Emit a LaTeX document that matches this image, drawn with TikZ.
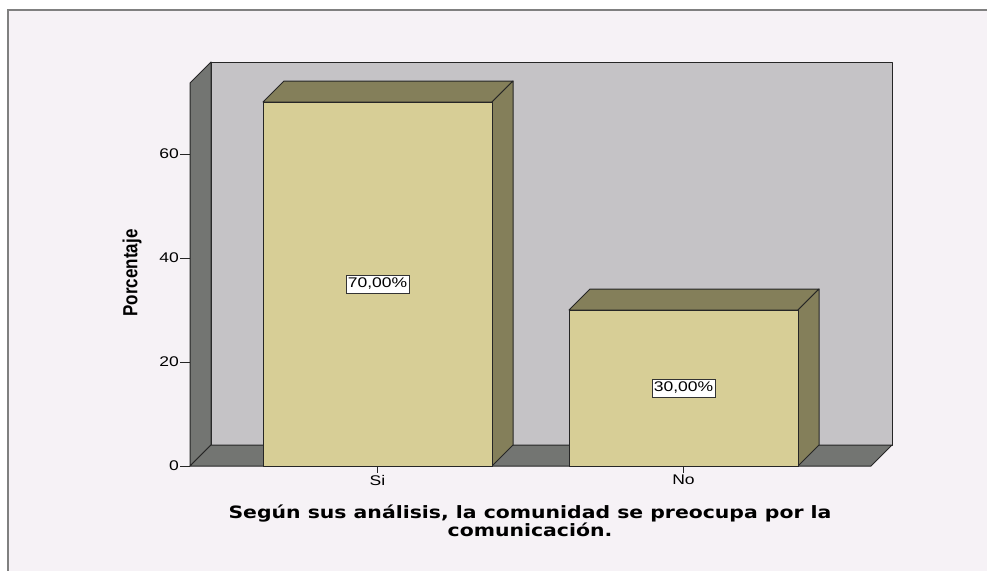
\documentclass[tikz,border=0pt]{standalone}
\usepackage{fontspec}
\setmainfont{Liberation Sans}
\newfontfamily\titlefont{DejaVu Sans}
\usetikzlibrary{positioning}
\definecolor{paper}{RGB}{246,242,246}
\definecolor{backwall}{RGB}{197,195,198}
\definecolor{sidewall}{RGB}{115,117,114}
\definecolor{barfront}{RGB}{215,206,150}
\definecolor{barside}{RGB}{132,127,90}
\newcommand{\wide}[1]{\scalebox{1.25}[1]{#1}}
\tikzset{
  edge/.style={draw=black!85, line width=1pt, line join=round},
  pctbox/.style={draw=black!80, fill=white, inner xsep=2pt, inner ysep=3pt, font=\fontsize{14}{14}\selectfont},
  ticklab/.style={font=\fontsize{14}{14}\selectfont, inner sep=1pt}
}
\begin{document}
\begin{tikzpicture}[x=1pt,y=-1pt]
\useasboundingbox (0,0) rectangle (987,570);
\fill[white] (0,0) rectangle (987,570);
\filldraw[fill=paper, draw=gray, line width=1.2pt] (8,10) rectangle (1000,590);
% walls and floor
\filldraw[edge, fill=backwall] (211,62) rectangle (892,445);
\filldraw[edge, fill=sidewall] (190,83)--(211,62)--(211,445)--(190,466)--cycle;
\filldraw[edge, fill=sidewall] (190,466)--(211,445)--(892,445)--(871,466)--cycle;
% y axis
\foreach \v in {0,20,40,60}
{
\draw[edge] (180,{466-5.2*\v})--(190,{466-5.2*\v});
\node[ticklab, anchor=east] (y\v) at (180,{466-5.2*\v}) {\wide{\v}};
}
\node[rotate=90, font=\bfseries\fontsize{17}{17}\selectfont] (ylab) at (132,273) {\scalebox{1}[1.2]{Porcentaje}};
% bars
\foreach \xa/\v/\lab/\pct/\nm in {263/70/Si/{70,00\%}/si, 569/30/No/{30,00\%}/no}
{
\pgfmathsetmacro{\yt}{466-5.2*\v}
\filldraw[edge, fill=barside] (\xa,\yt)--(\xa+21,\yt-21)--(\xa+250,\yt-21)--(\xa+229,\yt)--cycle;
\filldraw[edge, fill=barside] (\xa+229,\yt)--(\xa+250,\yt-21)--(\xa+250,445)--(\xa+229,466)--cycle;
\filldraw[edge, fill=barfront] (\xa,\yt) rectangle (\xa+229,466);
\node[pctbox] (pct-\nm) at (\xa+114.5,{466-2.6*\v}) {\wide{\pct}};
\draw[edge] (\xa+114.5,466)--(\xa+114.5,473);
\node[ticklab, anchor=north] (cat-\nm) at (\xa+114.5,474) {\wide{\lab}};
}
\node[align=center, font=\titlefont\bfseries\fontsize{17}{18}\selectfont] (title) at (530,521)
  {\scalebox{1.2}[1]{Según sus análisis, la comunidad se preocupa por la}\\\scalebox{1.2}[1]{comunicación.}};
\end{tikzpicture}
\end{document}
